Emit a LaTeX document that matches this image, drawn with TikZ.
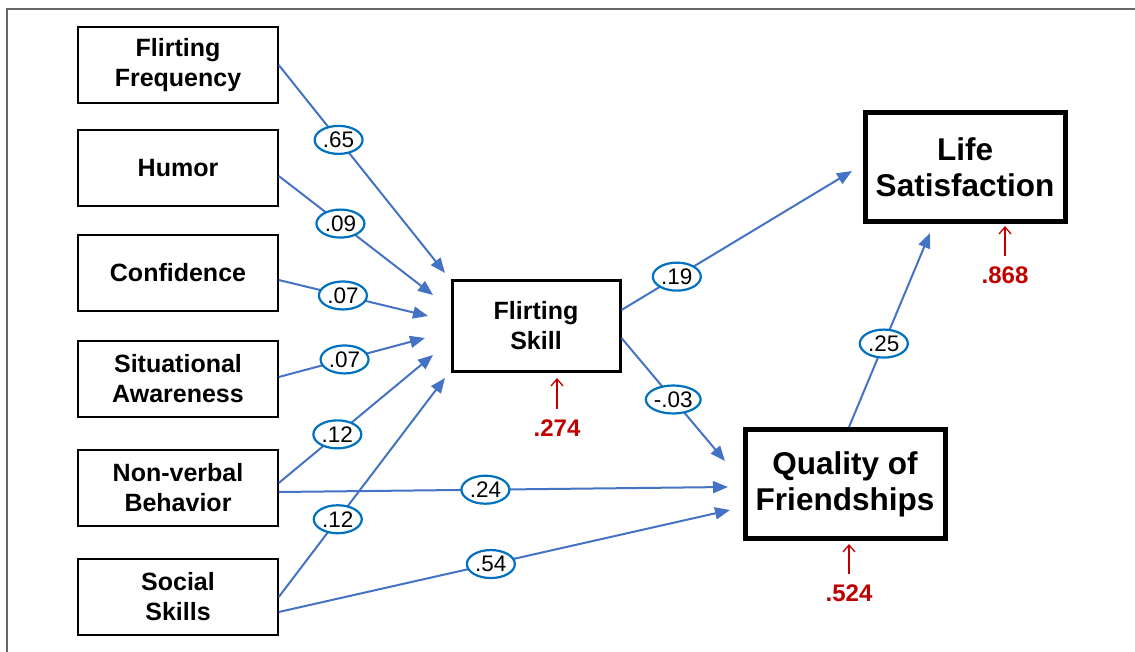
\documentclass[tikz,border=0pt]{standalone}
\usepackage{fontspec}
\setmainfont{Liberation Sans}
\usetikzlibrary{arrows.meta,shapes.geometric}
\definecolor{edgeblue}{HTML}{4472C4}
\definecolor{lblblue}{HTML}{0070C0}
\definecolor{darkred}{HTML}{C00000}
\definecolor{framegray}{HTML}{666666}
\begin{document}
\begin{tikzpicture}[x=1pt,y=-1pt,
  box/.style={draw=black,line width=1.5pt,minimum width=200pt,minimum height=76pt,inner sep=0pt,align=center,font=\bfseries\fontsize{25}{30}\selectfont},
  midbox/.style={box,line width=3pt,minimum width=168pt,minimum height=90pt},
  bigbox/.style={box,line width=5pt,minimum width=200pt,minimum height=109pt,font=\bfseries\fontsize{31.5}{36}\selectfont},
  edge/.style={draw=edgeblue,line width=2pt,-{Triangle[length=15pt,width=12pt]}},
  lbl/.style={ellipse,draw=lblblue,line width=2.2pt,fill=white,inner sep=0pt,minimum width=48pt,minimum height=28pt,font=\fontsize{22.5}{22.5}\selectfont},
  redarrow/.style={draw=darkred,line width=1.3pt,-{Straight Barb[length=7pt,width=12pt]}},
  rnum/.style={text=darkred,inner sep=0pt,font=\bfseries\fontsize{24}{24}\selectfont}]
\useasboundingbox (0,0) rectangle (1135,652);
\draw[framegray,line width=2.5pt] (7,652) -- (7,9) -- (1135,9);

% nodes
\node[box] (ff) at (178,65) {Flirting\\Frequency};
\node[box] (hu) at (178,168) {Humor};
\node[box] (co) at (178,273) {Confidence};
\node[box] (sa) at (178,379) {Situational\\Awareness};
\node[box] (nv) at (178,488) {Non-verbal\\Behavior};
\node[box] (ss) at (178,597) {Social\\Skills};
\node[midbox] (fs) at (536,326) {Flirting\\Skill};
\node[bigbox] (ls) at (965,167) {Life\\Satisfaction};
\node[bigbox] (qf) at (845,484) {Quality of\\Friendships};

\node[rnum] (n274) at (557,428) {.274};
\node[rnum] (n868) at (1005,275) {.868};
\node[rnum] (n524) at (849,593) {.524};

% free ends
\coordinate (t1) at (445,273);
\coordinate (t2) at (433,295);
\coordinate (t3) at (428,316);
\coordinate (t4) at (425,338);
\coordinate (t5) at (433,355);
\coordinate (t6) at (445,378);
\coordinate (t7) at (728,487);
\coordinate (t8) at (730,510);
\coordinate (t9) at (852,171);
\coordinate (t10) at (725,461);
\coordinate (t11) at (930,233);
\coordinate (r1) at (557,378);
\coordinate (r2) at (1005,226);
\coordinate (r3) at (849,544);

% connectors
\draw[edge] (ff.east) -- node[lbl,pos=.36]{.65} (t1);
\draw[edge] ([yshift=-8pt]hu.east) -- node[lbl,pos=.40]{.09} (t2);
\draw[edge] ([yshift=-7pt]co.east) -- node[lbl,pos=.43]{.07} (t3);
\draw[edge] ([yshift=2pt]sa.east) -- node[lbl,pos=.45]{.07} (t4);
\draw[edge] ([yshift=5pt]nv.east) -- node[lbl,pos=.38]{.12} (t5);
\draw[edge] (ss.east) -- node[lbl,pos=.355]{.12} (t6);
\draw[edge] ([yshift=-4pt]nv.east) -- node[lbl,pos=.46]{.24} (t7);
\draw[edge] ([yshift=-15pt]ss.east) -- node[lbl,pos=.47]{.54} (t8);
\draw[edge] ([yshift=16pt]fs.east) -- node[lbl,pos=.24]{.19} (t9);
\draw[edge] ([yshift=-12pt]fs.east) -- node[lbl,pos=.5]{-.03} (t10);
\draw[edge] ([xshift=4pt]qf.north) -- node[lbl,pos=.43]{.25} (t11);

% residual arrows
\draw[redarrow] ([yshift=10pt]n274.north) -- (r1);
\draw[redarrow] ([yshift=10pt]n868.north) -- (r2);
\draw[redarrow] ([yshift=10pt]n524.north) -- (r3);
\end{tikzpicture}
\end{document}
